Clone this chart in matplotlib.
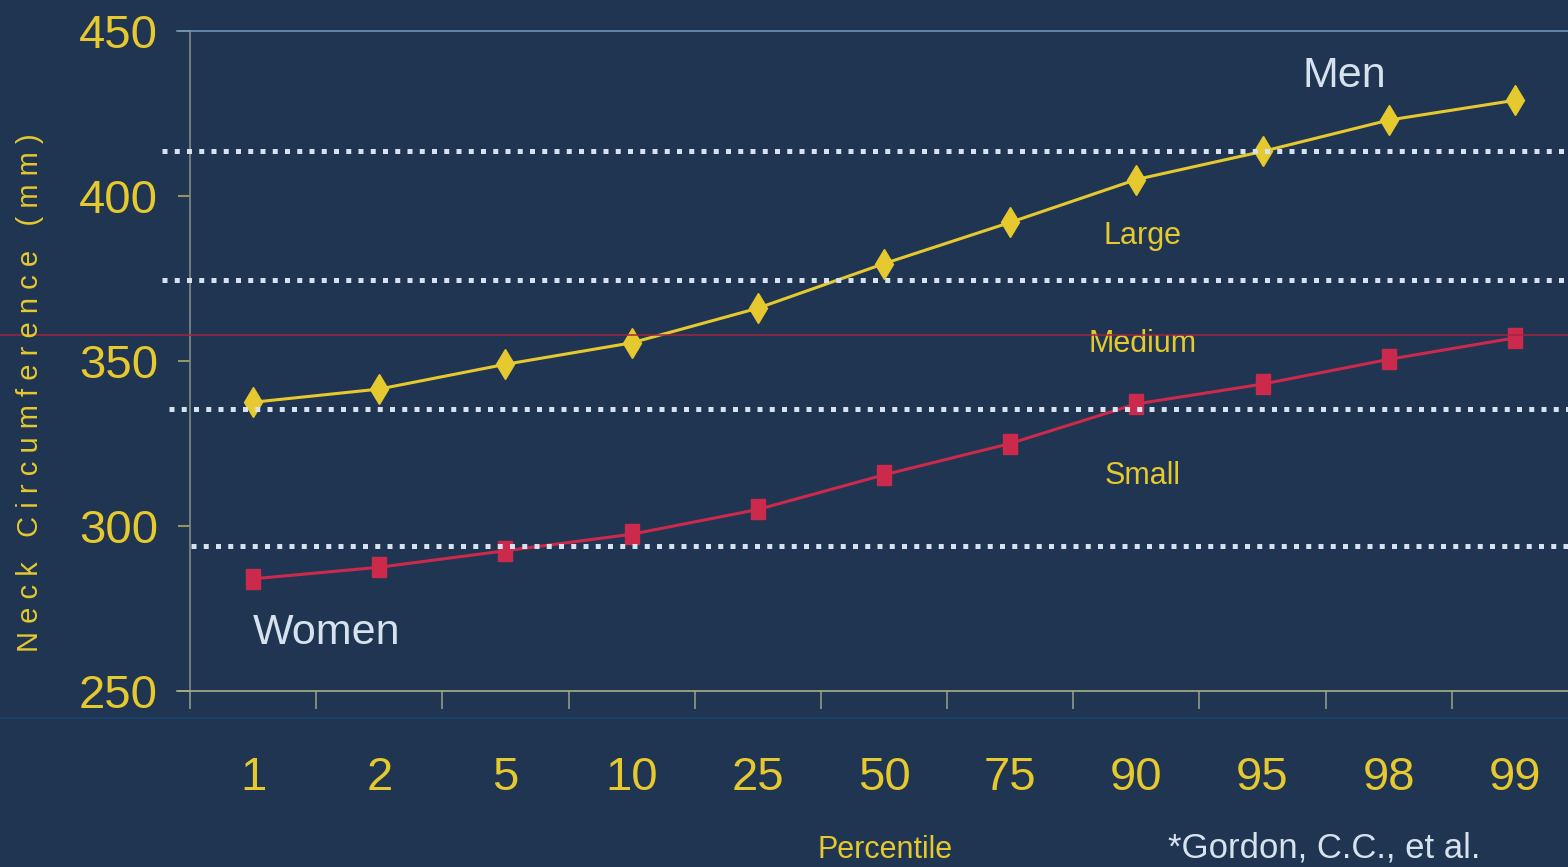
import matplotlib
matplotlib.use("Agg")
import matplotlib.pyplot as plt
from matplotlib.markers import MarkerStyle
from matplotlib.transforms import Affine2D
from matplotlib.lines import Line2D

# data
percentiles = ["1", "2", "5", "10", "25", "50", "75", "90", "95", "98", "99"]
men = [337.5, 341.5, 349, 355.5, 366, 379.5, 392, 405, 413.5, 423, 429]
women = [284, 287.5, 292.5, 297.5, 305, 315.5, 325, 337, 343, 350.5, 357]
size_cuts = [413.5, 374.5, 335.5, 294]
size_names = ["Large", "Medium", "Small"]
size_label_y = [388, 355, 315]
y_ticks = [250, 300, 350, 400, 450]

BG = "#1f3551"
YEL = "#e6c92e"
RED = "#cc2a4c"
PALE = "#d6e2ee"
narrow = ["Liberation Sans Narrow", "Liberation Sans", "DejaVu Sans"]
plain = ["Liberation Sans", "DejaVu Sans"]

fig = plt.figure(figsize=(15.68, 8.67), dpi=100, facecolor=BG)
W, H = 1568, 867
ax = fig.add_axes([190 / W, 1 - 691 / H, 1388 / W, 660 / H], facecolor=BG)

x = list(range(len(percentiles)))

# faint projector scan lines
fig.add_artist(Line2D([0, 1], [1 - 335 / H, 1 - 335 / H], color="#a5243f", lw=1.2, alpha=0.9))
fig.add_artist(Line2D([0, 1], [1 - 718 / H, 1 - 718 / H], color="#1d4470", lw=1.5, alpha=0.8))

diamond = MarkerStyle("D", transform=Affine2D().scale(0.6, 1.0))
rect = MarkerStyle("s", transform=Affine2D().scale(0.7, 1.05))

ax.plot(x, men, color=YEL, lw=2.2, marker=diamond, markersize=15, zorder=3)
ax.plot(x, women, color=RED, lw=2.2, marker=rect, markersize=14, zorder=3)

# size cut-off dotted lines (extend a little left of the axis)
starts = [-0.72, -0.72, -0.67, -0.49]
for y, s in zip(size_cuts, starts):
    ax.plot([s, 10.6], [y, y], color=PALE, lw=3.6, linestyle=(0, (1, 1.45)),
            clip_on=False, zorder=4)

for name, y in zip(size_names, size_label_y):
    ax.text(7.05, y, name, color=YEL, fontsize=22, family=narrow, ha="center", va="center")

ax.text(8.65, 436.5, "Men", color=PALE, fontsize=31, family=plain, ha="center", va="center")
ax.text(0.58, 267.5, "Women", color=PALE, fontsize=31, family=plain, ha="center", va="center")

ax.set_xlim(-0.5, 10.5)
ax.set_ylim(250, 450)

# spines
ax.spines["right"].set_visible(False)
ax.spines["top"].set_color("#6f93b8")
ax.spines["left"].set_color("#7d8a8a")
ax.spines["bottom"].set_color("#a8ad88")
for sp in ["top", "left", "bottom"]:
    ax.spines[sp].set_linewidth(1.2)
ax.plot([-0.6, -0.5], [450, 450], color="#6f93b8", lw=1.2, clip_on=False)
ax.plot([-0.6, -0.5], [250, 250], color="#a8ad88", lw=1.2, clip_on=False)

ax.set_yticks(y_ticks)
ax.set_yticklabels([str(v) for v in y_ticks], family=narrow, fontsize=34, color=YEL)
ax.tick_params(axis="y", direction="out", length=9, width=1.2, color="#b0a860", pad=14)

ax.set_xticks(x)
ax.set_xticklabels(percentiles, family=narrow, fontsize=34, color=YEL)
ax.set_xticks([i - 0.5 for i in range(len(percentiles) + 1)], minor=True)
ax.tick_params(axis="x", which="major", length=0, pad=47)
ax.tick_params(axis="x", which="minor", direction="out", length=13, width=1.2, color="#8f9a8a")

fig.text(30 / W, 1 - 393 / H, "N e c k   C i r c u m f e r e n c e   ( m m )", rotation=90,
         color=YEL, fontsize=21, family=narrow, ha="center", va="center")
fig.text(885 / W, 1 - 850 / H, "Percentile", color=YEL, fontsize=22, family=narrow,
         ha="center", va="center")
fig.text(1168 / W, 1 - 864 / H, "*Gordon, C.C., et al.", color=PALE, fontsize=25,
         family=plain, ha="left", va="bottom")

fig.savefig("out.png", dpi=100, facecolor=BG)
